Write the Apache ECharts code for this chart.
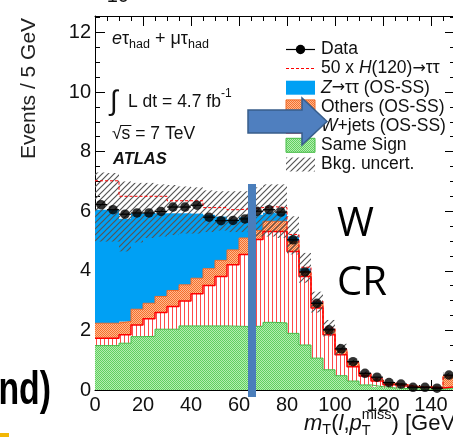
<!DOCTYPE html>
<html><head><meta charset="utf-8">
<script src="https://cdn.jsdelivr.net/npm/echarts@6/dist/echarts.min.js"></script>
<style>html,body{margin:0;padding:0;background:#fff;overflow:hidden}#c{width:453px;height:437px}</style>
</head><body><div id="c"></div>
<script>
// ---------------- data (in units of 10^3 events / 5 GeV) ----------------
const binLow = [0,5,10,15,20,25,30,35,40,45,50,55,60,65,70,75,80,85,90,95,100,105,110,115,120,125,130,135,140,145];
const binWidth = 5;
const sameSign = [1.49,1.49,1.57,1.79,1.80,2.04,2.04,2.15,2.15,2.15,2.15,2.14,2.13,2.14,2.27,2.25,1.90,1.51,1.07,0.68,0.48,0.30,0.17,0.11,0.07,0.05,0.04,0.03,0.03,0.08];
const wjets    = [0.25,0.25,0.28,0.39,0.59,0.56,0.76,0.84,1.08,1.36,1.66,2.06,2.42,2.91,3.05,3.07,2.75,2.30,1.68,1.17,0.70,0.48,0.30,0.19,0.11,0.08,0.05,0.05,0.04,0.03];
const others   = [0.50,0.50,0.45,0.53,0.52,0.54,0.54,0.54,0.52,0.56,0.54,0.50,0.55,0.30,0.34,0.34,0.33,0.17,0.16,0.19,0.16,0.12,0.07,0.06,0.04,0.04,0.02,0.02,0.02,0.36];
const ztautau  = [3.81,3.81,3.45,3.21,3.02,2.79,2.59,2.40,2.17,1.81,1.47,1.02,0.70,0.53,0.29,0.27,0.17,0.10,0.05,0.03,0.02,0.02,0.01,0.01,0.01,0.00,0.01,0.00,0.00,0.01];
const higgs50  = [0.97,0.97,0.75,0.58,0.57,0.57,0.42,0.42,0.43,0.24,0.30,0.33,0.28,0.24,0.20,0.19,0.07,0.04,0.02,0.01,0.01,0.01,0.01,0.01,0.01,0.01,0,0,0,0];
const dataCounts = [6.22,6.05,5.90,5.94,5.94,5.99,6.14,6.14,6.20,5.80,5.68,5.69,5.74,6.00,6.05,5.97,5.04,3.96,2.91,2.02,1.38,0.95,0.56,0.43,0.25,0.20,0.09,0.09,0.06,0.50];
const bkgUncLow  = [4.98,4.98,4.65,4.95,5.10,5.15,5.20,5.25,5.25,5.30,5.35,5.30,5.30,5.15,5.15,5.10,4.55,3.60,2.60,1.80,1.18,0.82,0.48,0.32,0.19,0.14,0.10,0.08,0.07,0.38];
const bkgUncHigh = [7.30,7.28,7.00,6.95,6.95,6.90,6.88,6.83,6.80,6.70,6.67,6.67,6.67,6.80,6.90,6.90,5.83,4.60,3.30,2.35,1.55,1.02,0.62,0.42,0.27,0.20,0.14,0.12,0.11,0.58];
const xTickLabels = [0,20,40,60,80,100,120,140];
const yTickLabels = [0,2,4,6,8,10,12];

// ---------------- stacking ----------------
let base = binLow.map(() => 0);
function layer(vals){ const lo = base.slice(); base = base.map((b,i)=>b+vals[i]); return {lo, hi: base.slice()}; }
const Lss = layer(sameSign), Lw = layer(wjets), Lo = layer(others), Lz = layer(ztautau);
const sigTop = Lz.hi.map((v,i)=>v+higgs50[i]);
const xMax = binLow[binLow.length-1] + binWidth;

// ---------------- patterns ----------------
function pat(w,h,draw){const c=document.createElement('canvas');c.width=w;c.height=h;const g=c.getContext('2d');draw(g);return {image:c,repeat:'repeat'};}
const greenPat = pat(2,2,g=>{g.fillStyle='#b4ecb0';g.fillRect(0,0,2,2);g.fillStyle='#5fd05f';g.fillRect(0,0,1,1);g.fillRect(1,1,1,1);});
const orangePat = pat(2,2,g=>{g.fillStyle='#ffb890';g.fillRect(0,0,2,2);g.fillStyle='#f5702c';g.fillRect(0,0,1,1);g.fillRect(1,1,1,1);});
const redPat = pat(4,1,g=>{g.fillStyle='#ffffff';g.fillRect(0,0,4,1);g.fillStyle='#ff4a4a';g.fillRect(0,0,1,1);});
const hatchPat = pat(6,6,g=>{g.strokeStyle='#555';g.lineWidth=1.2;g.beginPath();g.moveTo(-1,7);g.lineTo(7,-1);g.moveTo(-1,1);g.lineTo(1,-1);g.moveTo(5,7);g.lineTo(7,5);g.stroke();});
const blue = '#00a0f4';

// ---------------- series builders ----------------
function rectSeries(name, lo, hi, fill, z){
  return {type:'custom', name, z, silent:true, animation:false,
    data: binLow.map((x,i)=>[x, x+binWidth, lo[i], hi[i]]),
    encode:{x:[0,1], y:[2,3]},
    renderItem:(p,api)=>{
      const a=api.coord([api.value(0), api.value(2)]);
      const b=api.coord([api.value(1), api.value(3)]);
      return {type:'rect', shape:{x:a[0], y:b[1], width:b[0]-a[0], height:a[1]-b[1]}, style:{fill}};
    }};
}
function stepLine(vals, color, width, dash, z){
  const pts = binLow.map((x,i)=>[x, vals[i]]); pts.push([xMax, vals[vals.length-1]]);
  return {type:'line', step:'end', data:pts, symbol:'none', z, silent:true, animation:false,
    lineStyle:{color, width, type: dash||'solid'}};
}

const series = [
  rectSeries('Same Sign', Lss.lo, Lss.hi, greenPat, 2),
  rectSeries('W+jets', Lw.lo, Lw.hi, redPat, 2),
  rectSeries('Others', Lo.lo, Lo.hi, orangePat, 2),
  rectSeries('Ztautau', Lz.lo, Lz.hi, blue, 2),
  stepLine(Lss.hi, '#44bb44', 1, null, 3),
  stepLine(Lo.hi, '#f06a28', 1, null, 3),
  stepLine(Lw.hi, '#ff0000', 1.5, null, 3),
  rectSeries('Bkg uncert', bkgUncLow, bkgUncHigh, hatchPat, 4),
  stepLine(sigTop, '#ff0000', 1, [3,2], 5),
  {type:'custom', z:6, silent:true, animation:false,
    data: binLow.map((x,i)=>[x, x+binWidth, dataCounts[i]]),
    encode:{x:[0,1], y:2},
    renderItem:(p,api)=>{
      const a=api.coord([api.value(0), api.value(2)]);
      const b=api.coord([api.value(1), api.value(2)]);
      return {type:'line', shape:{x1:a[0], y1:a[1], x2:b[0], y2:b[1]}, style:{stroke:'#000', lineWidth:1.2}};
    }},
  {type:'scatter', z:7, silent:true, animation:false, symbol:'circle', symbolSize:9.5,
    itemStyle:{color:'#000'},
    data: binLow.map((x,i)=>[x+binWidth/2, dataCounts[i]])}
];

// ---------------- text helpers ----------------
const FAM = '"Liberation Sans", Arial, sans-serif';
const mctx = document.createElement('canvas').getContext('2d');
function fontStr(p){return (p.it?'italic ':'')+(p.b?'bold ':'')+p.sz+'px '+(p.fam||FAM);}
function meas(t,f){mctx.font=f;return mctx.measureText(t).width;}
function txt(x,y,text,font,opts){
  opts=opts||{};
  const al=opts.align||'left', va=opts.va||'middle';
  return Object.assign({type:'text', x, y, z:opts.z||50, silent:true,
    style:{text, font, fill:opts.fill||'#111', textAlign:al, align:al, textVerticalAlign:va, verticalAlign:va}},
    opts.el||{});
}
function runs(x, y, parts, color, z){
  const els=[]; let cx=x;
  parts.forEach(p=>{
    const f=fontStr(p); const w=meas(p.t,f);
    els.push(txt(cx, y+(p.dy||0), p.t, f, {fill:color, z}));
    if (p.adv!==undefined) cx+=p.adv;
    else if (p.advText) cx+=Math.max(w, meas(p.advText,f));
    else cx+=w;
  });
  return els;
}
const ARW = '"DejaVu Sans", '+FAM;

const G = [];
// y axis title
G.push(txt(29.5, 88.5, 'Events / 5 GeV', '21px '+FAM, {align:'center', fill:'#222', el:{rotation:Math.PI/2}}));
// x10^3 (cut at top)
G.push(...runs(95, -4, [{t:'×10',sz:20},{t:'3',sz:13,dy:-7}], '#111'));
// x axis title
G.push(...runs(304, 424, [
  {t:'m',it:1,sz:22},{t:'T',sz:14.5,dy:6},{t:'(',sz:22},{t:'l',it:1,sz:22},{t:',',sz:22},{t:'p',it:1,sz:22},
  {t:'miss',sz:14.5,dy:-9,adv:0},{t:'T',sz:14.5,dy:7,advText:'miss'},{t:') [GeV]',sz:22}], '#111'));
// upper-left labels
G.push(...runs(112, 39, [{t:'e',it:1,sz:18},{t:'τ',sz:18},{t:'had',sz:12.5,dy:6},{t:' + ',sz:18},{t:'μτ',sz:18},{t:'had',sz:12.5,dy:6}], '#111'));
G.push(txt(110, 102, '∫', '28px '+FAM));
G.push(...runs(128, 102, [{t:'L dt = 4.7 fb',sz:17.5},{t:'-1',sz:12,dy:-8}], '#111'));
(function(){
  const f='17.5px '+FAM; const wr=meas('√',f), ws=meas('s',f);
  G.push(txt(112, 134, '√s = 7 TeV', f));
  G.push({type:'line', z:50, silent:true, shape:{x1:112+wr-1, y1:125.5, x2:112+wr+ws+1, y2:125.5}, style:{stroke:'#111', lineWidth:1}});
})();
G.push(txt(113, 159, 'ATLAS', 'italic bold 16.5px '+FAM));

// legend
const LX = 286, LW = 29, TX = 321;
const rows = [49.5, 68.5, 87.7, 106.9, 126.1, 145.3, 164.5];
G.push({type:'line', z:50, silent:true, shape:{x1:LX, y1:rows[0], x2:LX+LW, y2:rows[0]}, style:{stroke:'#000', lineWidth:1.2}});
G.push({type:'circle', z:51, silent:true, shape:{cx:LX+LW/2, cy:rows[0], r:4.7}, style:{fill:'#000'}});
G.push({type:'line', z:50, silent:true, shape:{x1:LX, y1:rows[1], x2:LX+LW, y2:rows[1]}, style:{stroke:'#ff0000', lineWidth:1, lineDash:[3,2]}});
const boxes = [[2, blue, null],[3, orangePat, '#f06a28'],[4, redPat, '#ff0000'],[5, greenPat, '#44bb44'],[6, hatchPat, null]];
boxes.forEach(([r, fill, stroke])=>{
  G.push({type:'rect', z:50, silent:true, shape:{x:LX, y:rows[r]-7, width:LW, height:14}, style:{fill, stroke: stroke||null, lineWidth:1}});
});
const LF = 17.5;
G.push(...runs(TX, rows[0], [{t:'Data',sz:LF}], '#111'));
G.push(...runs(TX, rows[1], [{t:'50 x ',sz:LF},{t:'H',it:1,sz:LF},{t:'(120)',sz:LF},{t:'→',sz:16,fam:ARW},{t:'ττ',sz:LF}], '#111'));
G.push(...runs(TX, rows[2], [{t:'Z',it:1,sz:LF},{t:'→',sz:16,fam:ARW},{t:'ττ (OS-SS)',sz:LF}], '#111'));
G.push(...runs(TX, rows[3], [{t:'Others (OS-SS)',sz:LF}], '#111'));
G.push(...runs(TX, rows[4], [{t:'W',it:1,sz:LF},{t:'+jets (OS-SS)',sz:LF}], '#111'));
G.push(...runs(TX, rows[5], [{t:'Same Sign',sz:LF}], '#111'));
G.push(...runs(TX, rows[6], [{t:'Bkg. uncert.',sz:LF}], '#111'));

// slide annotations
G.push({type:'rect', z:60, silent:true, shape:{x:248, y:184, width:8, height:213}, style:{fill:'#4a7ebb'}});
G.push({type:'polygon', z:61, silent:true, shape:{points:[[248,110],[302,110],[302,98],[327,121.5],[302,145],[302,133],[248,133]]}, style:{fill:'#4f7fbf', stroke:'#385d8a', lineWidth:1.5}});
G.push(txt(337, 225, 'W', '40px "Open Sans", '+FAM, {fill:'#000', z:62}));
G.push(txt(337, 284, 'CR', '40px "Open Sans", '+FAM, {fill:'#000', z:62}));
G.push(txt(51, 391, 'nd)', 'bold 47px '+FAM, {align:'right', fill:'#000', z:62, el:{scaleX:0.72}}));
G.push({type:'rect', z:62, silent:true, shape:{x:0, y:433, width:9, height:4}, style:{fill:'#f2b705'}});

// ---------------- axes ----------------
function xAx(pos, labels){
  return {type:'value', min:0, max:xMax, interval:20, position:pos,
    axisLine:{show:true, onZero:false, lineStyle:{color:'#000', width:1}},
    axisTick:{show:true, inside:true, length:10, lineStyle:{color:'#000', width:1}},
    minorTick:{show:true, splitNumber:4, length:5, lineStyle:{color:'#000', width:1}},
    splitLine:{show:false}, minorSplitLine:{show:false},
    axisLabel:{show:labels, margin:5, fontSize:20, fontFamily:FAM, color:'#111', hideOverlap:false,
      formatter:v=>xTickLabels.includes(v)?String(v):''}};
}
function yAx(pos, labels){
  return {type:'value', min:0, max:12.55, interval:2, position:pos,
    axisLine:{show:true, onZero:false, lineStyle:{color:'#000', width:1}},
    axisTick:{show:true, inside:true, length:10, lineStyle:{color:'#000', width:1}},
    minorTick:{show:true, splitNumber:4, length:5, lineStyle:{color:'#000', width:1}},
    splitLine:{show:false}, minorSplitLine:{show:false},
    axisLabel:{show:labels, margin:4, fontSize:20, fontFamily:FAM, color:'#111', hideOverlap:false,
      formatter:v=>yTickLabels.includes(v)?String(v):''}};
}

const chart = echarts.init(document.getElementById('c'), null, {renderer:'canvas'});
chart.setOption({
  animation:false,
  backgroundColor:'#fff',
  grid:{left:95, top:16, right:-2, bottom:47, containLabel:false, outerBoundsMode:'none'},
  xAxis:[xAx('bottom', true), xAx('top', false)],
  yAxis:[yAx('left', true), yAx('right', false)],
  series,
  graphic: G
});
</script></body></html>
